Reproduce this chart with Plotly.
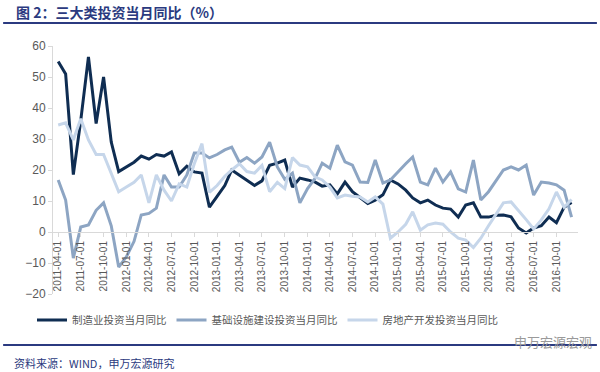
import pandas as pd
import plotly.graph_objects as go

months = pd.date_range("2011-04-01", "2016-12-01", freq="MS").strftime("%Y-%m-%d").tolist()

manufacturing = [55, 51, 18.5, 36, 56.5, 35, 50, 29, 19.5, 21,
                 22.5, 24.5, 23.5, 25, 24.5, 25.8, 18.8, 21.2, 19.4, 19,
                 8, 11.5, 15, 20, 18.4, 16.8, 15, 16.5, 21.5, 22.2,
                 23.2, 14.5, 17.4, 16.8, 16.1, 14.8, 15.2, 12.3, 16.1, 13,
                 11, 9.2, 10.3, 12, 16.8, 15.5, 13.5, 11, 9.4, 10.3,
                 8.7, 7.7, 7.4, 4.8, 8.7, 9.4, 4.8, 4.8, 5.4, 5.5,
                 4.9, 1.3, -0.3, 1.3, 2, 4.8, 3, 8, 9.5]

infrastructure = [16.8, 10.3, -8.4, 1.6, 2.3, 7, 9.4, 2, -11.3, -8,
                  -3, 5.5, 6, 7.7, 18.4, 14.5, 14.5, 18.4, 25.5, 25.5,
                  23.9, 25, 26.5, 27.4, 22.5, 24, 22.2, 24.2, 29, 21,
                  17, 19, 9.4, 14, 17.4, 22.2, 20.6, 28, 22.6, 21.6,
                  16.1, 16, 23.2, 15.8, 16.8, 19.5, 22, 24.2, 16.1, 15.2,
                  20.6, 16.1, 19.4, 13.9, 12.9, 23.2, 10.3, 13, 16.5, 20,
                  21, 20, 21.6, 11.9, 16.1, 15.8, 15.2, 13.5, 4.8]

real_estate = [34.5, 35.2, 29.7, 36.5, 29.7, 25, 25, 19, 13, 14.5,
               16, 18.4, 9.4, 18.4, 13.5, 10, 15.5, 14.5, 22, 28.5,
               12.8, 15, 18, 20, 22, 19.5, 19, 21.5, 13, 16,
               14, 24, 21.6, 21, 17.7, 16.8, 14.5, 11, 11.9, 11.5,
               11.3, 9.7, 11.3, 9, -2, 0, 2.5, 6.5, 0.6, 2.3,
               2.9, 2.5, 0, -2, -2.6, -5, -2, 2, 6, 9.4,
               9.7, 7, 4, 1, 3.9, 7.5, 12.9, 8, 10.5]

series_names = ["制造业投资当月同比", "基础设施建设投资当月同比", "房地产开发投资当月同比"]
series_colors = ["#0f2d52", "#8da5c3", "#c6d6ea"]

tick_labels = [m for m in months if m[5:7] in ("01", "04", "07", "10") and m <= "2016-10-01"]

fig = go.Figure()
for name, vals, col in zip(series_names, [manufacturing, infrastructure, real_estate], series_colors):
    fig.add_trace(go.Scatter(x=months, y=vals, mode="lines", name=name,
                             line=dict(color=col, width=3)))

navy = "#2b3a80"
fig.update_layout(
    width=600, height=372,
    margin=dict(l=53, r=22, t=46, b=78, autoexpand=False),
    paper_bgcolor="white", plot_bgcolor="white",
    font=dict(family="Noto Sans CJK SC, Arial", color="#595959", size=11),
    showlegend=True,
    legend=dict(orientation="h", x=-0.04, xanchor="left", y=-0.105, yanchor="middle",
                font=dict(size=10.5, color="#595959", family="Noto Sans CJK SC"),
                itemwidth=30, tracegroupgap=0, bgcolor="rgba(0,0,0,0)"),
    xaxis=dict(type="date", range=["2011-03-11", "2016-12-27"],
               tickvals=tick_labels, ticktext=tick_labels, tickangle=-90,
               tickfont=dict(size=10, color="#595959", family="Arial"),
               showgrid=False, showline=True, linecolor="#d9d9d9", linewidth=1,
               ticks="outside", ticklen=4, tickcolor="#d9d9d9",
               anchor="free", position=0.25, zeroline=False, automargin=False),
    yaxis=dict(range=[-20, 60], tickvals=[-20, -10, 0, 10, 20, 30, 40, 50, 60],
               showgrid=False, zeroline=False, showline=True, linecolor="#d9d9d9",
               ticks="outside", ticklen=4, tickcolor="#d9d9d9", automargin=False,
               tickfont=dict(size=12, color="#595959", family="Arial")),
)

fig.add_annotation(text="<b>图 2：三大类投资当月同比（%）</b>", xref="paper", yref="paper",
                   x=-0.075, y=1.136, xanchor="left", yanchor="middle", showarrow=False,
                   font=dict(size=14, color=navy, family="Noto Sans CJK SC"))
fig.add_shape(type="line", xref="paper", yref="paper", x0=-0.095, x1=1.036, y0=1.093, y1=1.093,
              line=dict(color=navy, width=2))
fig.add_shape(type="line", xref="paper", yref="paper", x0=-0.095, x1=1.036, y0=-0.206, y1=-0.206,
              line=dict(color=navy, width=2))
fig.add_annotation(text="资料来源：WIND，申万宏源研究", xref="paper", yref="paper",
                   x=-0.078, y=-0.278, xanchor="left", yanchor="middle", showarrow=False,
                   font=dict(size=11, color=navy, family="Noto Sans CJK SC"))
fig.add_annotation(text="申万宏源宏观", xref="paper", yref="paper",
                   x=1.03, y=-0.19, xanchor="right", yanchor="middle", showarrow=False,
                   font=dict(size=13, color="#9a9a9a", family="Noto Sans CJK SC"))

fig.write_html("out.html", config={"displayModeBar": False},
               post_script="document.body.style.margin='0px';document.body.style.overflow='hidden';")
